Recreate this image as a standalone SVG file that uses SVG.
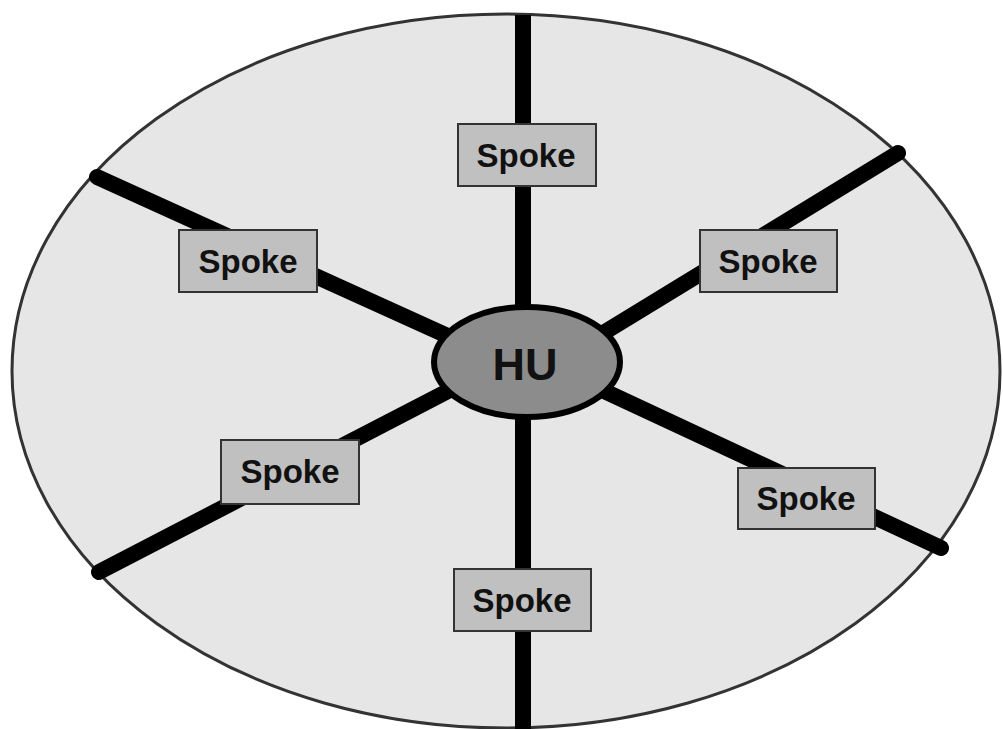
<svg xmlns="http://www.w3.org/2000/svg" width="1003" height="729" viewBox="0 0 1003 729">
  <style>
    .rim { fill: #e6e6e6; stroke: #333333; stroke-width: 3; }
    .spoke-line { stroke: #000000; stroke-width: 16; stroke-linecap: round; fill: none; }
    .box { fill: #c0c0c0; stroke: #333333; stroke-width: 2; }
    .label { font-family: "Liberation Sans", Arial, sans-serif; font-weight: bold; font-size: 33px; fill: #111111; text-anchor: middle; dominant-baseline: central; }
    .hub { fill: #8c8c8c; stroke: #000000; stroke-width: 6; }
    .hub-label { font-family: "Liberation Sans", Arial, sans-serif; font-weight: bold; font-size: 45px; fill: #111111; text-anchor: middle; dominant-baseline: central; }
  </style>
  <rect width="1003" height="729" fill="#ffffff"/>
  <!-- outer wheel -->
  <ellipse class="rim" cx="506" cy="371" rx="494" ry="357"/>

  <!-- spokes -->
  <g id="connectors">
    <line class="spoke-line" x1="523" y1="15" x2="523" y2="729" style="stroke-linecap:butt"/>
    <line class="spoke-line" x1="97" y1="177" x2="450" y2="337"/>
    <line class="spoke-line" x1="898" y1="153" x2="600" y2="335"/>
    <line class="spoke-line" x1="99" y1="572" x2="450" y2="390"/>
    <line class="spoke-line" x1="941" y1="548" x2="602" y2="390"/>
  </g>

  <g id="spoke-top">
    <rect class="box" x="458" y="124" width="138" height="62"/>
    <text class="label" x="526" y="155">Spoke</text>
  </g>
  <g id="spoke-upper-left">
    <rect class="box" x="179" y="230" width="138" height="62"/>
    <text class="label" x="248" y="261">Spoke</text>
  </g>
  <g id="spoke-upper-right">
    <rect class="box" x="700" y="230" width="137" height="62"/>
    <text class="label" x="768" y="261">Spoke</text>
  </g>
  <g id="spoke-lower-left">
    <rect class="box" x="221" y="440" width="138" height="64"/>
    <text class="label" x="290" y="471">Spoke</text>
  </g>
  <g id="spoke-lower-right">
    <rect class="box" x="738" y="468" width="137" height="61"/>
    <text class="label" x="806" y="498">Spoke</text>
  </g>
  <g id="spoke-bottom">
    <rect class="box" x="454" y="569" width="137" height="62"/>
    <text class="label" x="522" y="600">Spoke</text>
  </g>

  <g id="hub">
    <ellipse class="hub" cx="527" cy="362" rx="93" ry="55"/>
    <text class="hub-label" x="525" y="364">HU</text>
  </g>
</svg>
